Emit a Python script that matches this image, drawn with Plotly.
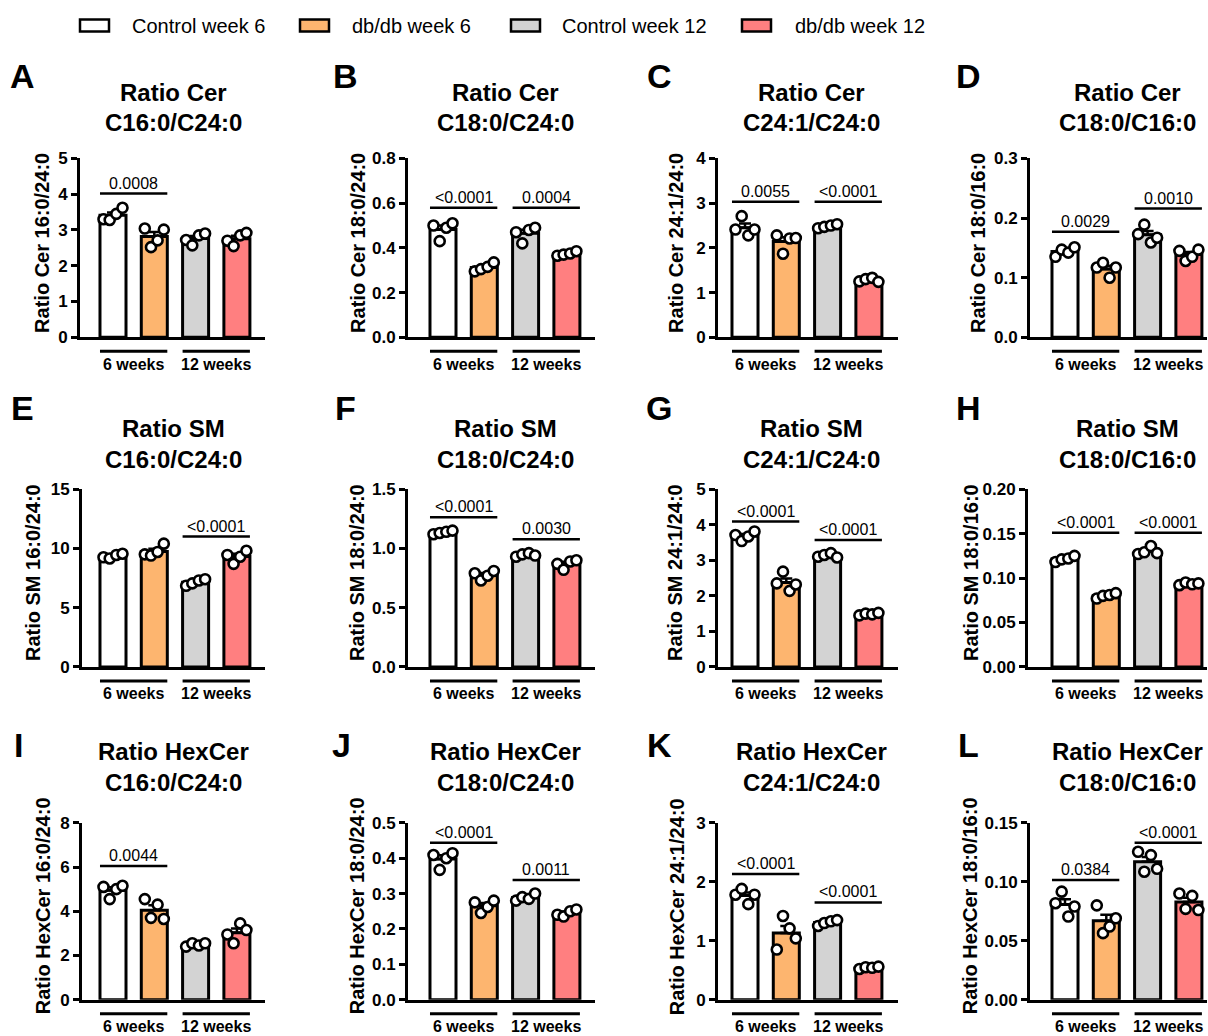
import numpy as np
import plotly.graph_objects as go

W, H = 1208, 1036
FONT = "Liberation Sans, Arial, sans-serif"

groups = ["Control week 6", "db/db week 6", "Control week 12", "db/db week 12"]
colors = ["#FFFFFF", "#FDB56F", "#D3D3D3", "#FF7F80"]
period_labels = ["6 weeks", "12 weeks"]

panel_letters = list("ABCDEFGHIJKL")
lipid_class = ["Cer"] * 4 + ["SM"] * 4 + ["HexCer"] * 4
ratio_names = ["C16:0/C24:0", "C18:0/C24:0", "C24:1/C24:0", "C18:0/C16:0"] * 3
y_titles = [
    "Ratio Cer 16:0/24:0", "Ratio Cer 18:0/24:0", "Ratio Cer 24:1/24:0", "Ratio Cer 18:0/16:0",
    "Ratio SM 16:0/24:0", "Ratio SM 18:0/24:0", "Ratio SM 24:1/24:0", "Ratio SM 18:0/16:0",
    "Ratio HexCer 16:0/24:0", "Ratio HexCer 18:0/24:0", "Ratio HexCer 24:1/24:0", "Ratio HexCer 18:0/16:0",
]
y_max = [5, 0.8, 4, 0.3, 15, 1.5, 5, 0.20, 8, 0.5, 3, 0.15]
y_dtick = [1, 0.2, 1, 0.1, 5, 0.5, 1, 0.05, 2, 0.1, 1, 0.05]
y_fmt = [".0f", ".1f", ".0f", ".1f", ".0f", ".1f", ".0f", ".2f", ".0f", ".1f", ".0f", ".2f"]

# individual animals, per panel: [Control w6, db/db w6, Control w12, db/db w12]
points = [
    # A Cer C16/C24
    [[3.30, 3.28, 3.45, 3.62], [3.04, 2.52, 2.71, 3.01], [2.72, 2.57, 2.85, 2.90], [2.70, 2.55, 2.85, 2.92]],
    # B Cer C18/C24
    [[0.50, 0.43, 0.49, 0.51], [0.295, 0.305, 0.315, 0.335], [0.47, 0.42, 0.48, 0.49], [0.365, 0.370, 0.375, 0.385]],
    # C Cer C24:1/C24
    [[2.41, 2.71, 2.28, 2.41], [2.28, 1.87, 2.21, 2.22], [2.44, 2.47, 2.50, 2.53], [1.25, 1.30, 1.33, 1.24]],
    # D Cer C18/C16
    [[0.135, 0.147, 0.142, 0.151], [0.117, 0.125, 0.100, 0.117], [0.173, 0.189, 0.159, 0.167], [0.145, 0.128, 0.135, 0.147]],
    # E SM C16/C24
    [[9.25, 9.15, 9.45, 9.55], [9.50, 9.40, 9.70, 10.40], [6.85, 7.05, 7.30, 7.40], [9.45, 8.70, 9.30, 9.80]],
    # F SM C18/C24
    [[1.12, 1.13, 1.14, 1.15], [0.79, 0.73, 0.77, 0.81], [0.93, 0.95, 0.96, 0.94], [0.87, 0.82, 0.89, 0.90]],
    # G SM C24:1/C24
    [[3.71, 3.54, 3.67, 3.81], [2.35, 2.68, 2.14, 2.32], [3.10, 3.15, 3.20, 3.08], [1.45, 1.50, 1.48, 1.52]],
    # H SM C18/C16
    [[0.118, 0.121, 0.122, 0.125], [0.077, 0.080, 0.081, 0.083], [0.127, 0.129, 0.136, 0.128], [0.092, 0.095, 0.093, 0.094]],
    # I HexCer C16/C24
    [[5.10, 4.55, 5.00, 5.15], [4.55, 3.70, 4.30, 3.65], [2.40, 2.55, 2.45, 2.55], [2.95, 2.55, 3.45, 3.15]],
    # J HexCer C18/C24
    [[0.409, 0.367, 0.400, 0.414], [0.275, 0.245, 0.262, 0.280], [0.280, 0.290, 0.285, 0.300], [0.240, 0.235, 0.250, 0.255]],
    # K HexCer C24:1/C24
    [[1.78, 1.88, 1.62, 1.78], [0.85, 1.42, 1.21, 1.04], [1.25, 1.30, 1.33, 1.35], [0.52, 0.55, 0.54, 0.56]],
    # L HexCer C18/C16
    [[0.0818, 0.0916, 0.0705, 0.079], [0.080, 0.0564, 0.062, 0.069], [0.1254, 0.1085, 0.1226, 0.111], [0.090, 0.077, 0.088, 0.076]],
]

# p-values: (left group index, label, bracket height in data units)
p_values = [
    [(0, "0.0008", 4.02)],
    [(0, "<0.0001", 0.58), (2, "0.0004", 0.58)],
    [(0, "0.0055", 3.03), (2, "<0.0001", 3.03)],
    [(0, "0.0029", 0.177), (2, "0.0010", 0.216)],
    [(2, "<0.0001", 11.0)],
    [(0, "<0.0001", 1.263), (2, "0.0030", 1.077)],
    [(0, "<0.0001", 4.09), (2, "<0.0001", 3.57)],
    [(0, "<0.0001", 0.151), (2, "<0.0001", 0.151)],
    [(0, "0.0044", 6.05)],
    [(0, "<0.0001", 0.444), (2, "0.0011", 0.338)],
    [(0, "<0.0001", 2.13), (2, "<0.0001", 1.65)],
    [(0, "0.0384", 0.1015), (2, "<0.0001", 0.1331)],
]

# ---------------- layout geometry (pixels) ----------------
axis_px = [[80, 408, 718, 1030], [82, 408, 718, 1028], [82, 408, 718, 1030]]
first_center_px = [113, 443, 745, 1065]
right_px = [265, 595, 898, 1207]
SP = 41.3
BAR_W = 0.63
row_top = [158, 489, 823]
row_bot = [337, 667, 1000]
ytitle_x = [[42, 358, 676, 978], [33, 357, 675, 971], [43, 357, 677, 970]]
title_y = [(92, 122), (428, 459), (752, 783)]
title_x = [174, 505, 811, 1127]
letter_pos = [[(22, 75), (345, 75), (659, 75), (968, 75)],
              [(22, 408), (345, 408), (659, 408), (968, 408)],
              [(18, 745), (341, 745), (659, 745), (968, 745)]]
offsets = [-0.23, -0.08, 0.08, 0.23]

# vertical calibration of the page render
Y_OFF, Y_SCALE = 8.4, 0.9826


def px(x):
    return x / W


def py(y):
    return 1 - ((y - Y_OFF) / Y_SCALE) / H


fig = go.Figure()
shapes = []
annotations = []
layout = {}

for k in range(12):
    r, c = divmod(k, 4)
    n = k + 1
    xa = "x" if n == 1 else f"x{n}"
    ya = "y" if n == 1 else f"y{n}"
    xkey = "xaxis" if n == 1 else f"xaxis{n}"
    ykey = "yaxis" if n == 1 else f"yaxis{n}"

    a = axis_px[r][c]
    c0 = first_center_px[c]
    rr = right_px[c]
    x_lo = -(c0 - a) / SP
    x_hi = 3 + (rr - (c0 + 3 * SP)) / SP

    layout[xkey] = dict(domain=[px(a), px(rr)], anchor=ya, range=[x_lo, x_hi],
                        showline=True, linewidth=3, linecolor="black", showgrid=False,
                        zeroline=False, showticklabels=False, ticks="", fixedrange=True)
    layout[ykey] = dict(domain=[py(row_bot[r]), py(row_top[r])], anchor=xa, range=[0, y_max[k]],
                        dtick=y_dtick[k], tick0=0, tickformat=y_fmt[k],
                        showline=True, linewidth=3, linecolor="black", showgrid=False,
                        zeroline=False, ticks="outside", ticklen=6, tickwidth=3, tickcolor="black",
                        tickfont=dict(family=FONT, size=17, color="black", weight="bold"),
                        fixedrange=True)

    pts = [np.array(p) for p in points[k]]
    means = [p.mean() for p in pts]
    sems = [p.std(ddof=1) / np.sqrt(len(p)) for p in pts]

    fig.add_trace(go.Bar(
        x=list(range(4)), y=means, width=BAR_W, xaxis=xa, yaxis=ya,
        marker=dict(color=colors, line=dict(color="black", width=3)),
        error_y=dict(type="data", array=sems, arrayminus=[0] * 4, symmetric=False,
                     color="black", thickness=2.5, width=6),
        showlegend=False, hoverinfo="skip"))

    xs, ys = [], []
    for g, p in enumerate(pts):
        for j, v in enumerate(p):
            xs.append(g + offsets[j])
            ys.append(v)
    fig.add_trace(go.Scatter(
        x=xs, y=ys, xaxis=xa, yaxis=ya, mode="markers",
        marker=dict(symbol="circle", size=10, color="white", line=dict(color="black", width=2.6)),
        showlegend=False, hoverinfo="skip", cliponaxis=False))

    # significance brackets
    for (g, txt, yv) in p_values[k]:
        shapes.append(dict(type="line", xref=xa, yref=ya, x0=g - BAR_W / 2, x1=g + 1 + BAR_W / 2,
                           y0=yv, y1=yv, line=dict(color="black", width=2.5)))
        annotations.append(dict(xref=xa, yref=ya, x=g + 0.5, y=yv, text=txt, showarrow=False,
                                yanchor="bottom", yshift=0,
                                font=dict(family=FONT, size=16, color="black")))

    # period group lines/labels
    for gi, lab in enumerate(period_labels):
        g = gi * 2
        yl = row_bot[r] + 14
        shapes.append(dict(type="line", xref=xa, yref="paper", x0=g - BAR_W / 2, x1=g + 1 + BAR_W / 2,
                           y0=py(yl), y1=py(yl), line=dict(color="black", width=3)))
        annotations.append(dict(xref=xa, yref="paper", x=g + 0.5, y=py(yl + 13), text=lab,
                                showarrow=False, yanchor="middle",
                                font=dict(family=FONT, size=16, color="black", weight="bold")))

    # y-axis title
    annotations.append(dict(xref="paper", yref="paper", x=px(ytitle_x[r][c]),
                            y=py((row_top[r] + row_bot[r]) / 2 - 5), text=y_titles[k],
                            textangle=-90, showarrow=False, xanchor="center", yanchor="middle",
                            font=dict(family=FONT, size=20, color="black", weight="bold")))
    # panel title
    t1, t2 = title_y[r]
    annotations.append(dict(xref="paper", yref="paper", x=px(title_x[c]), y=py(t1),
                            text=f"Ratio {lipid_class[k]}", showarrow=False,
                            xanchor="center", yanchor="middle",
                            font=dict(family=FONT, size=24, color="black", weight="bold")))
    annotations.append(dict(xref="paper", yref="paper", x=px(title_x[c]), y=py(t2),
                            text=ratio_names[k], showarrow=False,
                            xanchor="center", yanchor="middle",
                            font=dict(family=FONT, size=24, color="black", weight="bold")))
    # panel letter
    lx, ly = letter_pos[r][c]
    annotations.append(dict(xref="paper", yref="paper", x=px(lx), y=py(ly),
                            text=panel_letters[k], showarrow=False,
                            xanchor="center", yanchor="middle",
                            font=dict(family=FONT, size=34, color="black", weight="bold")))

# legend
leg_box_x = [80, 300, 511, 742]
leg_text_x = [130, 350, 560, 793]
for i, gname in enumerate(groups):
    shapes.append(dict(type="rect", xref="paper", yref="paper",
                       x0=px(leg_box_x[i]), x1=px(leg_box_x[i] + 29), y0=py(31), y1=py(19),
                       fillcolor=colors[i], line=dict(color="black", width=2.5)))
    annotations.append(dict(xref="paper", yref="paper", x=px(leg_text_x[i]), y=py(25),
                            text=gname, showarrow=False, xanchor="left", yanchor="middle",
                            font=dict(family=FONT, size=20, color="black")))

fig.update_layout(width=W, height=H, margin=dict(l=0, r=0, t=0, b=0),
                  paper_bgcolor="white", plot_bgcolor="white", showlegend=False,
                  shapes=shapes, annotations=annotations, **layout)

fig.write_html("out.html", config={"displayModeBar": False},
               post_script="document.body.style.margin='0';document.body.style.overflow='hidden';")
